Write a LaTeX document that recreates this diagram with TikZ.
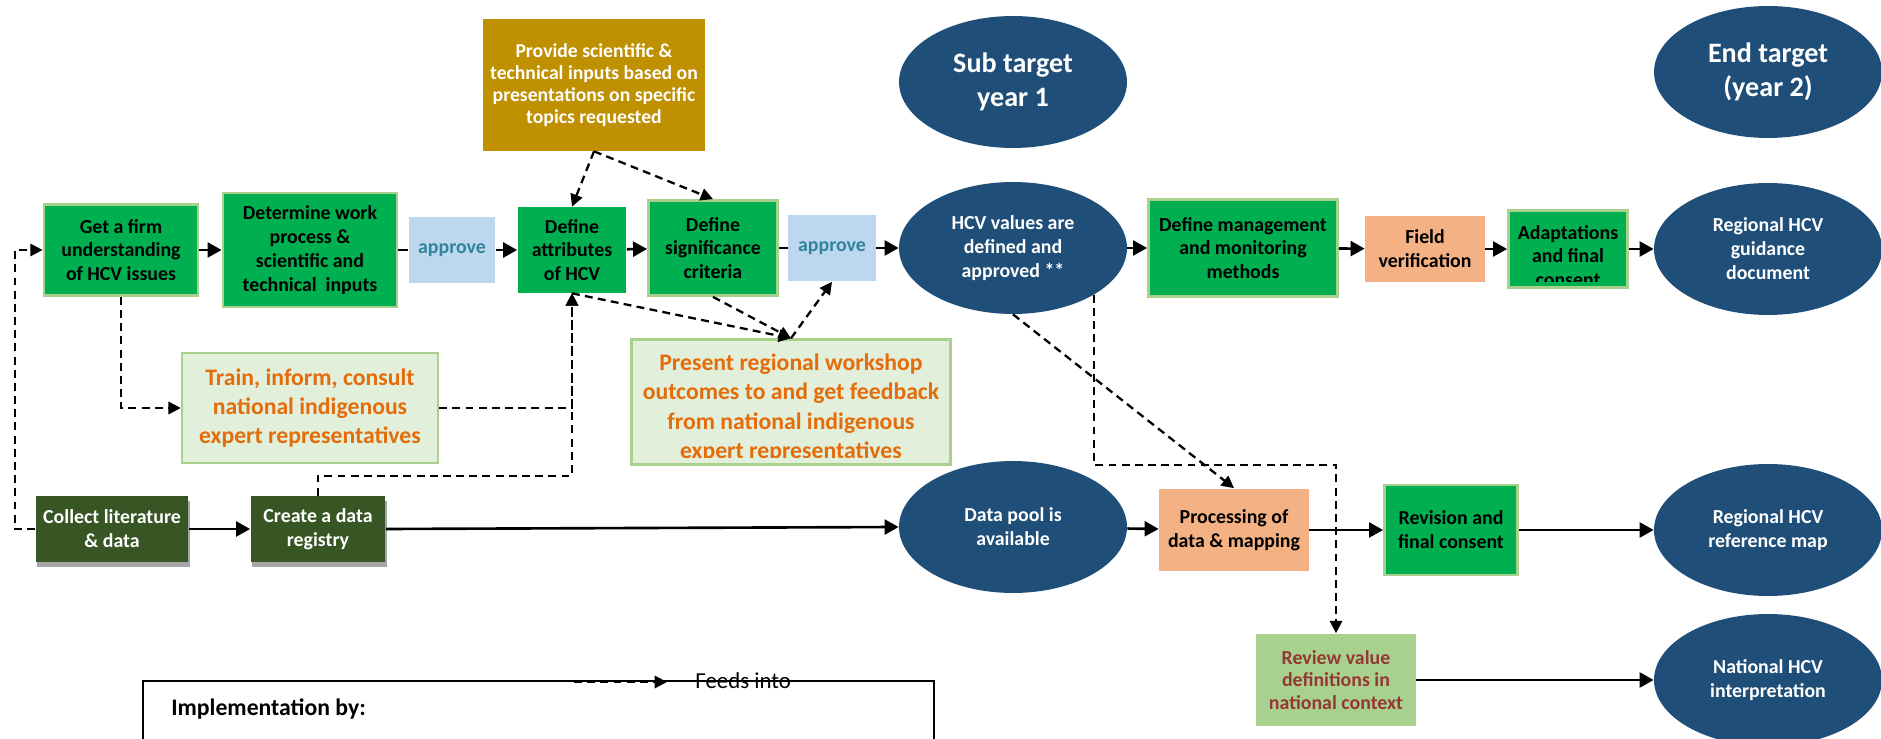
\documentclass[tikz,border=0pt]{standalone}
\usepackage{fontspec}
\setmainfont{Carlito}
\usetikzlibrary{arrows.meta,shapes.geometric,shadows}

\definecolor{taskgreen}{HTML}{00B050}
\definecolor{edgegreen}{HTML}{A9D18E}
\definecolor{paleblue}{HTML}{BDD7EE}
\definecolor{approveteal}{HTML}{31849B}
\definecolor{inputgold}{HTML}{BF9000}
\definecolor{hcvblue}{HTML}{1F4E79}
\definecolor{palegreen}{HTML}{E2EFDA}
\definecolor{consultorange}{HTML}{E46C0A}
\definecolor{datagreen}{HTML}{375623}
\definecolor{peach}{HTML}{F4B183}
\definecolor{reviewred}{HTML}{953735}

\begin{document}
\begin{tikzpicture}[
        x=0.02cm, y=-0.02cm,
        every node/.style={font=\bfseries\fontsize{11.3}{13.6}\selectfont,align=center,inner sep=0pt},
        taskbox/.style={rectangle,fill=taskgreen,draw=edgegreen,line width=1.6pt},
        approvebox/.style={rectangle,fill=paleblue,text=approveteal,minimum height=1.34cm},
        inputbox/.style={rectangle,fill=inputgold,text=white,font=\bfseries\fontsize{11.2}{12.6}\selectfont},
        targetell/.style={ellipse,fill=hcvblue,text=white,minimum width=4.56cm,minimum height=2.64cm},
        bigtarget/.style={targetell,font=\bfseries\fontsize{16}{19.5}\selectfont},
        consultbox/.style={rectangle,fill=palegreen,draw=edgegreen,line width=1.4pt},
        consulttext/.style={text=consultorange,font=\bfseries\fontsize{13.5}{16.7}\selectfont},
        databox/.style={rectangle,fill=datagreen,text=white,minimum height=1.32cm,
          drop shadow={shadow xshift=0.6pt,shadow yshift=-2.8pt,fill=black!35,opacity=1}},
        peachbox/.style={rectangle,fill=peach},
        reviewbox/.style={rectangle,fill=edgegreen,text=reviewred,font=\bfseries\fontsize{11.3}{12.9}\selectfont},
        flow/.style={-{Triangle[length=8pt,width=8.5pt]},line width=1.5pt},
        feed/.style={-{Triangle[length=7pt,width=7pt]},line width=1.3pt,dash pattern=on 4.5pt off 3pt}
      ]
      \clip (0,0) rectangle (1881,739);

      % Top row
      \node[taskbox,minimum width=3.08cm,minimum height=1.82cm] (firm) at (121,250) {Get a firm\\understanding\\of HCV issues};
      \node[taskbox,minimum width=3.48cm,minimum height=2.28cm] (work) at (310,250) {Determine work\\process \&\\scientific and\\technical\ \ inputs};
      \node[approvebox,minimum width=1.74cm] (appr1) at (452,250) {approve};
      \node[rectangle,fill=taskgreen,minimum width=2.18cm,minimum height=1.72cm] (attr) at (572,250) {Define\\attributes\\of HCV};
      \node[taskbox,minimum width=2.58cm,minimum height=1.9cm] (signif) at (713,248) {Define\\significance\\criteria};
      \node[approvebox,minimum width=1.76cm] (appr2) at (832,248) {approve};
      \node[inputbox,minimum width=4.46cm,minimum height=2.64cm] (provide) at (594,85) {Provide scientific \&\\technical inputs based on\\presentations on specific\\topics requested};

      % Targets
      \node[bigtarget] (subtarget) at (1013,82) {Sub target\\year 1};
      \node[bigtarget] (endtarget) at (1768,72) {End target\\(year 2)};
      \node[targetell] (hcvval) at (1013,248) {HCV values are\\defined and\\approved **};
      \node[taskbox,minimum width=3.78cm,minimum height=1.94cm] (mgmt) at (1243,248) {Define management\\and monitoring\\methods};
      \node[peachbox,minimum width=2.4cm,minimum height=1.34cm] (field) at (1425,249) {Field\\verification};
      \node[taskbox,minimum width=2.38cm,minimum height=1.54cm] (adapt) at (1568,249) {};
      \begin{scope}
        \clip ([shift={(2,-7)}]adapt.south west) rectangle ([shift={(-2,2)}]adapt.north east);
        \node at (1568,256) {Adaptations\\and final\\consent};
      \end{scope}
      \node[targetell] (guide) at (1768,249) {Regional HCV\\guidance\\document};

      % Consultation boxes
      \node[consultbox,consulttext,minimum width=5.12cm,minimum height=2.2cm] (train) at (310,408) {Train, inform, consult\\national indigenous\\expert representatives};
      \node[consultbox,minimum width=6.38cm,minimum height=2.5cm] (present) at (791,402) {};
      \begin{scope}
        \clip ([shift={(2,-8)}]present.south west) rectangle ([shift={(-2,2)}]present.north east);
        \node[consulttext] at (791,408) {Present regional workshop\\outcomes to and get feedback\\from national indigenous\\expert representatives};
      \end{scope}

      % Data row
      \node[databox,minimum width=3.06cm] (collect) at (112,529) {Collect literature\\\& data};
      \node[databox,minimum width=2.7cm] (registry) at (318,529) {Create a data\\registry};
      \node[targetell] (datapool) at (1013,527) {Data pool is\\available};
      \node[peachbox,minimum width=3cm,minimum height=1.66cm] (process) at (1234,530) {Processing of\\data \& mapping};
      \node[taskbox,minimum width=2.66cm,minimum height=1.8cm] (revision) at (1451,530) {Revision and\\final consent};
      \node[targetell] (refmap) at (1768,530) {Regional HCV\\reference map};
      \node[reviewbox,minimum width=3.2cm,minimum height=1.86cm] (review) at (1336,680) {Review value\\definitions in\\national context};
      \node[targetell] (national) at (1768,680) {National HCV\\interpretation};

      % Solid flow
      \draw[flow] (firm) -- (work);
      \draw[line width=1.5pt] (work) -- (appr1);
      \draw[flow] (appr1) -- (attr);
      \draw[flow] (attr) -- (signif);
      \draw[line width=1.5pt] (signif) -- (appr2);
      \draw[flow] (appr2) -- (hcvval);
      \draw[flow] (hcvval) -- (mgmt);
      \draw[flow] (mgmt) -- (field);
      \draw[flow] (field) -- (adapt);
      \draw[flow] (adapt) -- (guide);
      \draw[flow] (collect) -- (registry);
      \draw[flow] (registry.east) -- (datapool.west);
      \draw[flow] (datapool) -- (process);
      \draw[flow] (process) -- (revision);
      \draw[flow] (revision) -- (refmap);
      \draw[flow] (review) -- (national);

      % Feeds into
      \draw[feed] (provide.south) -- (attr.north);
      \draw[feed] (provide.south) -- (signif.north);
      \draw[feed] (attr.south) -- (present.north);
      \draw[feed] (signif.south) -- (present.north);
      \draw[feed] (present.north) -- (appr2.south);
      \draw[feed] (collect.west) -- ++(-20,0) |- (firm.west);
      \draw[feed] (firm.south) |- (train.west);
      \draw[feed] (train.east) -| (attr.south);
      \draw[feed] (registry.north) -- ++(0,-20) -| (attr.south);
      \draw[feed] (hcvval.-30) -- ++(0,170) -| (review.north);
      \draw[feed] (hcvval.south) -- (process.north);

      % Legend
      \node[draw,line width=1.1pt,anchor=north west,minimum width=15.82cm,minimum height=2.6cm] (legend) at (142,680) {};
      \node[anchor=west,font=\bfseries\fontsize{13.5}{16}\selectfont] (impl) at (171,709) {Implementation by:};
      \coordinate (keyfrom) at (574,682);
      \coordinate (keyto) at (667,682);
      \draw[feed] (keyfrom) -- (keyto);
      \node[anchor=west,font=\fontsize{13}{15}\selectfont] (keytext) at (695,681) {Feeds into};
    \end{tikzpicture}
\end{document}
